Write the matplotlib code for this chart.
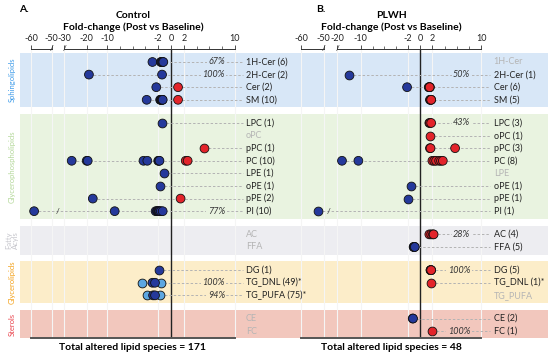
import numpy as np
import matplotlib
matplotlib.use("Agg")
import matplotlib.pyplot as plt

plt.rcParams['font.family'] = ['Lato', 'DejaVu Sans']

# lipid classes (rows, top to bottom)
rows = ["1H-Cer", "2H-Cer", "Cer", "SM",
        "LPC", "oPC", "pPC", "PC", "LPE", "oPE", "pPE", "PI",
        "AC", "FFA",
        "DG", "TG_DNL", "TG_PUFA",
        "CE", "FC"]
starred = ["TG_DNL", "TG_PUFA"]
groups = ["Sphingolipids", "Glycerophospholipids", "Fatty\nAcyls", "Glycerolipids", "Sterols"]
group_sizes = [4, 8, 2, 3, 2]
group_text_col = ["#3d9be9", "#b4d89a", "#c6c6cc", "#f3a21c", "#e9424b"]
group_band_col = ["#d8e7f7", "#e9f3e0", "#ededf1", "#fcedc9", "#f2c7bd"]

# Control
ctrl_n = [6, 2, 2, 10, 1, None, 1, 10, 1, 1, 2, 10, None, None, 1, 49, 75, None, None]
ctrl_fc = [
    [-2.9, -1.6, -1.5, -1.4, -1.3, -1.2],
    [-18.9, -1.4],
    [-2.3, 1.1],
    [-3.8, -1.7, -1.6, -1.55, -1.5, -1.45, -1.4, -1.35, -1.3, 1.1],
    [-1.4],
    [],
    [5.2],
    [-26.7, -20.0, -19.5, -4.3, -3.7, -2.0, -1.9, -1.8, 2.3, 2.6],
    [-1.1],
    [-1.7],
    [-17.0, 1.5],
    [-58.5, -8.8, -2.4, -2.2, -2.1, -2.0, -1.9, -1.8, -1.6, -1.3],
    [], [],
    [-1.95],
    [-2.9, -2.5],
    [-2.8, -2.5],
    [], [],
]
# light blue species in TG rows
ctrl_fc_light = {"TG_DNL": [-4.6, -1.5], "TG_PUFA": [-3.8, -1.7]}
ctrl_pct = {"1H-Cer": "67%", "2H-Cer": "100%", "PI": "77%", "TG_DNL": "100%", "TG_PUFA": "94%"}
ctrl_total = 171

# PLWH
plwh_n = [None, 1, 6, 5, 3, 1, 3, 8, None, 1, 1, 1, 4, 5, 5, 1, None, 2, 1]
plwh_fc = [
    [],
    [-15.0],
    [-2.2, 1.4, 1.5, 1.5, 1.6, 1.55],
    [1.6, 1.7, 1.7, 1.8, 1.8],
    [1.5, 1.6, 1.8],
    [1.6],
    [1.6, 1.7, 5.7],
    [-18.0, -11.0, 2.0, 2.3, 2.6, 3.1, 3.4, 3.7],
    [],
    [-1.6],
    [-2.1],
    [-52.5],
    [1.5, 1.8, 2.1, 2.2],
    [-1.1, -1.05, -1.0, -0.95, -0.9],
    [1.7, 1.7, 1.75, 1.8, 1.8],
    [1.7],
    [],
    [-1.25, -1.2],
    [2.0],
]
plwh_fc_light = {}
plwh_pct = {"2H-Cer": "50%", "LPC": "43%", "AC": "28%", "DG": "100%", "FC": "100%"}
plwh_total = 48

# broken x axis: data value -> pixel knots
ctrl_knots = ([-70, -60, -50, -30, -20, -10, 0, 10, 60],
              [11, 31, 51.7, 64.3, 86.7, 107, 171, 235, 555])
plwh_knots = ([-70, -60, -50, -20, -10, 0, 10, 60],
              [306.7, 326.7, 346.7, 359, 380, 433.3, 488.3, 763.3])
ctrl_ticks = [-60, -50, -30, -20, -10, -2, 0, 2, 10]
plwh_ticks = [-60, -50, -20, -10, -2, 0, 2, 10]
ctrl_segs = [(-60, -50), (-30, 10)]
plwh_segs = [(-60, -50), (-20, 10)]
minor_ticks = [-8, -6, -4, 4, 6, 8]

W, H = 550, 357
BLUE, RED, LIGHT = "#25399b", "#e3242b", "#5da7e2"


def pos(p):
    # pixel row -> y position
    return (p - 62) / 12.6


# row positions
ypos = []
y = 0.0
for gi, n in enumerate(group_sizes):
    if gi > 0:
        y += 1.84
    for k in range(n):
        ypos.append(y + k)
    y += n - 1

fig = plt.figure(figsize=(W / 100, H / 100), dpi=100)


def panel(ax_px, knots, ticks, segs, counts, fcs, light, pct, total, title, letter, show_groups, z):
    x0, x1 = ax_px
    ax = fig.add_axes([x0 / W, (H - 338) / H, (x1 - x0) / W, (338 - 49) / H])
    ax.set_zorder(z)
    ax.patch.set_visible(False)
    dk, pk = knots
    fwd = lambda v: np.interp(v, dk, pk)
    inv = lambda p: np.interp(p, pk, dk)
    ax.set_xscale('function', functions=(fwd, inv))
    ax.set_xlim(inv(x0), inv(x1))
    ytop, ybot = pos(49), pos(338)
    ax.set_ylim(ybot, ytop)
    for s in ax.spines.values():
        s.set_visible(False)
    ax.set_yticks([])

    # bands
    start = 0
    for gi, n in enumerate(group_sizes):
        top = ypos[start] - (0.72 if gi == 0 else 0.7)
        bot = ypos[start + n - 1] + 0.6
        ax.axhspan(top, bot, color=group_band_col[gi], lw=0, zorder=0)
        if show_groups:
            ax.text(-0.031, (top + bot) / 2, groups[gi], rotation=90, ha='center', va='center',
                    fontsize=5.5, color=group_text_col[gi], linespacing=0.9,
                    transform=ax.get_yaxis_transform(), clip_on=False)
        start += n

    # grid, zero line, axis lines
    grid = [t for t in ticks if t != 0]
    ax.vlines(grid, ytop, ybot, color="#f5f5f5", lw=0.8, zorder=1)
    ax.vlines(0, ytop, ybot, color="#222222", lw=1.0, zorder=2)
    for a, b in segs:
        ax.plot([a, b], [ytop, ytop], color="#333333", lw=0.7, clip_on=False, zorder=5)
    for xb in [segs[0][1], segs[1][0]]:
        ax.text(xb, ytop - 0.05, "/", ha='center', va='center', fontsize=6, color="#333333", clip_on=False)
    ax.plot([-60, 10], [ybot, ybot], color="#555555", lw=1.4, clip_on=False, zorder=5)

    ax.xaxis.set_ticks_position('top')
    ax.set_xticks(ticks)
    ax.set_xticklabels([str(t) for t in ticks])
    ax.set_xticks(minor_ticks, minor=True)
    ax.tick_params(axis='x', which='major', direction='out', length=3, width=0.6,
                   pad=1.5, labelsize=6.5, color="#333333", labelcolor="#222222")
    ax.tick_params(axis='x', which='minor', direction='out', length=2, width=0.5, color="#333333")

    lab_x = inv(fwd(10) + 11)
    dash_end = inv(fwd(10) + 8)
    pct_x = inv(fwd(10) - 10)
    start = 0
    for gi, n in enumerate(group_sizes):
        for r in range(start, start + n):
            name = rows[r]
            yy = ypos[r]
            vals = fcs[r] + light.get(name, [])
            if counts[r] is None:
                ax.text(lab_x, yy, name, ha='left', va='center', fontsize=6.5, color="#b5b5b5")
                continue
            lab = f"{name} ({counts[r]})" + ("*" if name in starred else "")
            ax.text(lab_x, yy, lab, ha='left', va='center', fontsize=6.5, color="#222222")
            ax.plot([min(vals), dash_end], [yy, yy], color="#b3b3b3", lw=0.7,
                    dashes=(2.5, 2), zorder=2)
            if min(vals) < -50:
                ax.text(-40, yy, "/", ha='center', va='center', fontsize=6, color="#333333", zorder=3)
            if name in pct:
                ax.text(pct_x, yy, pct[name], ha='right', va='center', fontsize=6.5,
                        style='italic', color="#333333", zorder=3,
                        bbox=dict(boxstyle='square,pad=0.15', fc=group_band_col[gi], ec='none'))
            lv = light.get(name, [])
            if lv:
                ax.scatter(lv, [yy] * len(lv), s=40, color=LIGHT, edgecolor="#111111",
                           linewidth=0.6, zorder=4)
            dv = np.array(fcs[r])
            if len(dv):
                cols = [BLUE if v < 0 else RED for v in dv]
                ax.scatter(dv, [yy] * len(dv), s=40, color=cols, edgecolor="#111111",
                           linewidth=0.6, zorder=4)
        start += n

    xc = inv((fwd(-60) + fwd(10)) / 2)
    ax.text(xc, pos(15), title, ha='center', va='center', fontsize=7.5, fontweight='bold', clip_on=False)
    ax.text(xc, pos(27), "Fold-change (Post vs Baseline)", ha='center', va='center',
            fontsize=7.5, fontweight='bold', clip_on=False)
    ax.text(xc, pos(347), f"Total altered lipid species = {total}", ha='center', va='center',
            fontsize=7.5, fontweight='bold', clip_on=False)
    fig.text(letter[1] / W, 1 - 10 / H, letter[0], ha='left', va='center',
             fontsize=7.5, fontweight='bold')
    return ax


panel((20, 279), ctrl_knots, ctrl_ticks, ctrl_segs, ctrl_n, ctrl_fc, ctrl_fc_light,
      ctrl_pct, ctrl_total, "Control", ("A.", 19), True, 2)
panel((279, 548), plwh_knots, plwh_ticks, plwh_segs, plwh_n, plwh_fc, plwh_fc_light,
      plwh_pct, plwh_total, "PLWH", ("B.", 316), False, 1)

fig.savefig("out.png", dpi=100)
